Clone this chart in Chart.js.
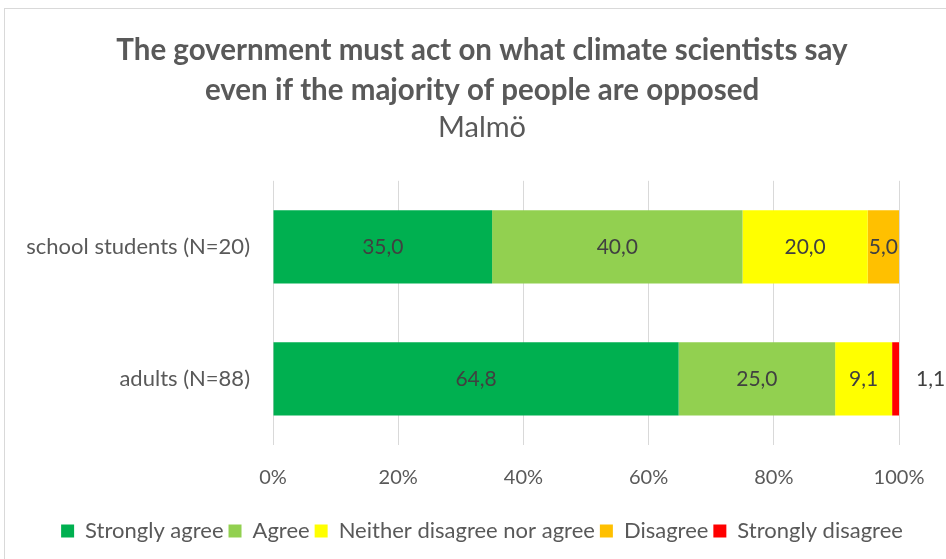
<!DOCTYPE html>
<html>
<head>
<meta charset="utf-8">
<script src="https://cdn.jsdelivr.net/npm/chart.js@4.4.1/dist/chart.umd.min.js"></script>
<style>
    body { margin: 0; background: #fff; overflow: hidden; }
    #wrap { position: relative; width: 946px; height: 559px; overflow: hidden; }
    #frame { position: absolute; left: 4px; top: 8px; width: 980px; height: 600px; border: 1px solid #d9d9d9; }
    canvas { position: absolute; left: 0; top: 0; }
</style>
</head>
<body>
<div id="wrap">
    <div id="frame"></div>
    <canvas id="chart" width="964" height="559"></canvas>
</div>
<script>
const groups = ['school students (N=20)', 'adults (N=88)'];
const answers = ['Strongly agree', 'Agree', 'Neither disagree nor agree', 'Disagree', 'Strongly disagree'];
const stronglyAgree = [35.0, 64.8];
const agree = [40.0, 25.0];
const neither = [20.0, 9.1];
const disagree = [5.0, 0];
const stronglyDisagree = [0, 1.1];
const colours = ['#00b050', '#92d050', '#ffff00', '#ffc000', '#ff0000'];

const FONT = 'Lato, "Open Sans", sans-serif';
const TEXT = '#595959';

// prints the value of each segment, like Excel's data labels
const barLabels = {
    id: 'barLabels',
    afterDatasetsDraw(chart) {
        const ctx = chart.ctx;
        ctx.save();
        ctx.font = '21px ' + FONT;
        ctx.fillStyle = '#404040';
        ctx.textBaseline = 'middle';
        chart.data.datasets.forEach((ds, i) => {
            const meta = chart.getDatasetMeta(i);
            meta.data.forEach((bar, j) => {
                const v = ds.data[j];
                if (!v) return;
                const txt = v.toFixed(1).replace('.', ',');
                const w = Math.abs(bar.x - bar.base);
                if (w < 15) {
                    ctx.textAlign = 'left';
                    ctx.fillText(txt, bar.x + 17, bar.y);
                } else {
                    ctx.textAlign = 'center';
                    ctx.fillText(txt, (bar.x + bar.base) / 2, bar.y);
                }
            });
        });
        ctx.restore();
    }
};

const series = [stronglyAgree, agree, neither, disagree, stronglyDisagree];

new Chart(document.getElementById('chart'), {
    type: 'bar',
    data: {
        labels: groups,
        datasets: answers.map((name, i) => ({
            label: name,
            data: series[i],
            backgroundColor: colours[i],
            borderWidth: 0,
            barPercentage: 0.555,
            categoryPercentage: 1
        }))
    },
    options: {
        indexAxis: 'y',
        responsive: false,
        animation: false,
        layout: { padding: { top: 12, right: 0, bottom: 7, left: 0 } },
        scales: {
            x: {
                stacked: true,
                min: 0,
                max: 100,
                ticks: {
                    stepSize: 20,
                    callback: v => v + '%',
                    color: TEXT,
                    font: { family: FONT, size: 20 },
                    padding: 21
                },
                grid: { color: '#d9d9d9', drawTicks: false },
                border: { display: false },
                afterFit(scale) { scale.height = 70; }
            },
            y: {
                stacked: true,
                ticks: {
                    color: TEXT,
                    font: { family: FONT, size: 22 },
                    padding: 23
                },
                grid: { display: false, drawTicks: false },
                border: { display: false },
                afterFit(scale) { scale.width = 273; }
            },
            // empty right-hand strip so the plot ends at 100% where the original does
            yRight: {
                type: 'category',
                position: 'right',
                ticks: { display: false },
                grid: { display: false, drawTicks: false },
                border: { display: false },
                afterFit(scale) { scale.width = 65; }
            }
        },
        plugins: {
            title: {
                display: true,
                text: ['The government must act on what climate scientists say', 'even if the majority of people are opposed'],
                color: TEXT,
                font: { family: FONT, size: 29.5, weight: 'bold', lineHeight: '40px' },
                padding: { top: 18, bottom: 0 }
            },
            subtitle: {
                display: true,
                text: 'Malmö',
                color: TEXT,
                font: { family: FONT, size: 29, weight: 'normal', lineHeight: 1.2 },
                padding: { top: 0, bottom: 36 }
            },
            legend: {
                position: 'bottom',
                labels: {
                    boxWidth: 13,
                    boxHeight: 13,
                    color: TEXT,
                    font: { family: FONT, size: 22 },
                    padding: 5
                }
            },
            tooltip: { enabled: false }
        }
    },
    plugins: [barLabels]
});
</script>
</body>
</html>
